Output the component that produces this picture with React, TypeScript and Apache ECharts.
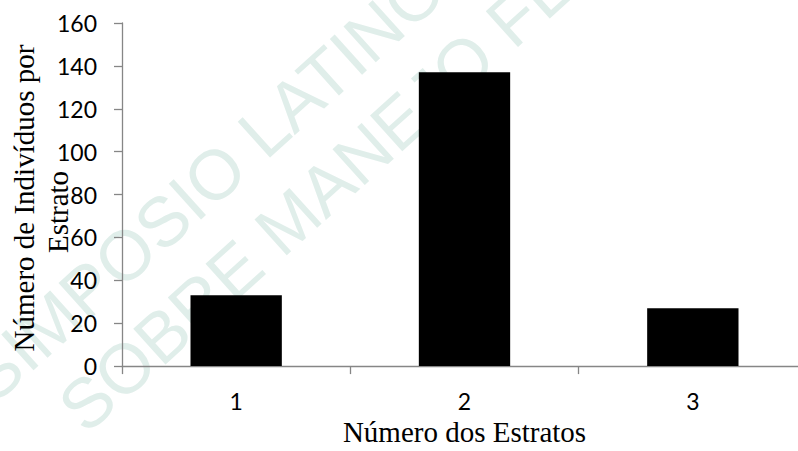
import React, { useEffect, useRef } from "react";
import * as echarts from "echarts";

const categories: string[] = ["1", "2", "3"];
const values: number[] = [33, 137, 27];
const yMin = 0;
const yMax = 160;
const yInterval = 20;
const xTitle = "Número dos Estratos";
const yTitleLines: string[] = ["Número de Indivíduos por", "Estrato"];
const watermarkLines: string[] = ["SIMPOSIO LATINOAMERICANO", "SOBRE MANEJO FLORESTAL"];

export default function App() {
  const ref = useRef<HTMLDivElement>(null);

  useEffect(() => {
    if (!ref.current) return;
    const chart = echarts.init(ref.current, null, { renderer: "svg" });
    const rot = (42 * Math.PI) / 180;
    const axisColor = "#868686";
    const wmColor = "#e0eeea";
    chart.setOption({
      animation: false,
      backgroundColor: "#ffffff",
      graphic: [
        {
          type: "text",
          z: -10,
          x: -22,
          y: 388,
          rotation: rot,
          style: {
            text: watermarkLines[0],
            font: "70px 'Liberation Sans'",
            fill: wmColor,
            align: "left",
            verticalAlign: "middle",
          },
        },
        {
          type: "text",
          z: -10,
          x: 70,
          y: 418,
          rotation: rot,
          style: {
            text: watermarkLines[1],
            font: "70px 'Liberation Sans'",
            fill: wmColor,
            align: "left",
            verticalAlign: "middle",
          },
        },
        {
          type: "text",
          z: 10,
          x: 24,
          y: 198,
          rotation: Math.PI / 2,
          style: {
            text: yTitleLines[0],
            font: "29px 'Liberation Serif'",
            fill: "#000000",
            align: "center",
            verticalAlign: "middle",
          },
        },
        {
          type: "text",
          z: 10,
          x: 58,
          y: 212,
          rotation: Math.PI / 2,
          style: {
            text: yTitleLines[1],
            font: "29px 'Liberation Serif'",
            fill: "#000000",
            align: "center",
            verticalAlign: "middle",
          },
        },
      ],
      grid: { left: 122, top: 23, width: 685, height: 349, containLabel: false },
      xAxis: {
        type: "category",
        data: categories,
        boundaryGap: true,
        axisLine: { show: true, lineStyle: { color: axisColor, width: 1.3 } },
        axisTick: { show: true, length: 8, alignWithLabel: false, lineStyle: { color: axisColor, width: 1.3 } },
        axisLabel: { color: "#000000", fontFamily: "Lato", fontSize: 23, margin: 23 },
        splitLine: { show: false },
        name: xTitle,
        nameLocation: "middle",
        nameGap: 49,
        nameTextStyle: { color: "#000000", fontFamily: "Liberation Serif", fontSize: 29 },
      },
      yAxis: {
        type: "value",
        min: yMin,
        max: yMax,
        interval: yInterval,
        axisLine: { show: true, lineStyle: { color: axisColor, width: 1.3 } },
        axisTick: { show: true, length: 8, lineStyle: { color: axisColor, width: 1.3 } },
        axisLabel: { color: "#000000", fontFamily: "Lato", fontSize: 23, margin: 25 },
        splitLine: { show: false },
      },
      series: [
        {
          type: "bar",
          data: values,
          barCategoryGap: "60%",
          itemStyle: { color: "#000000" },
          z: 2,
        },
      ],
    });
    return () => chart.dispose();
  }, []);

  return (
    <div
      style={{
        position: "fixed",
        left: 0,
        top: 0,
        width: 798,
        height: 451,
        overflow: "hidden",
        background: "#ffffff",
      }}
    >
      <div ref={ref} style={{ width: 830, height: 451 }} />
    </div>
  );
}
